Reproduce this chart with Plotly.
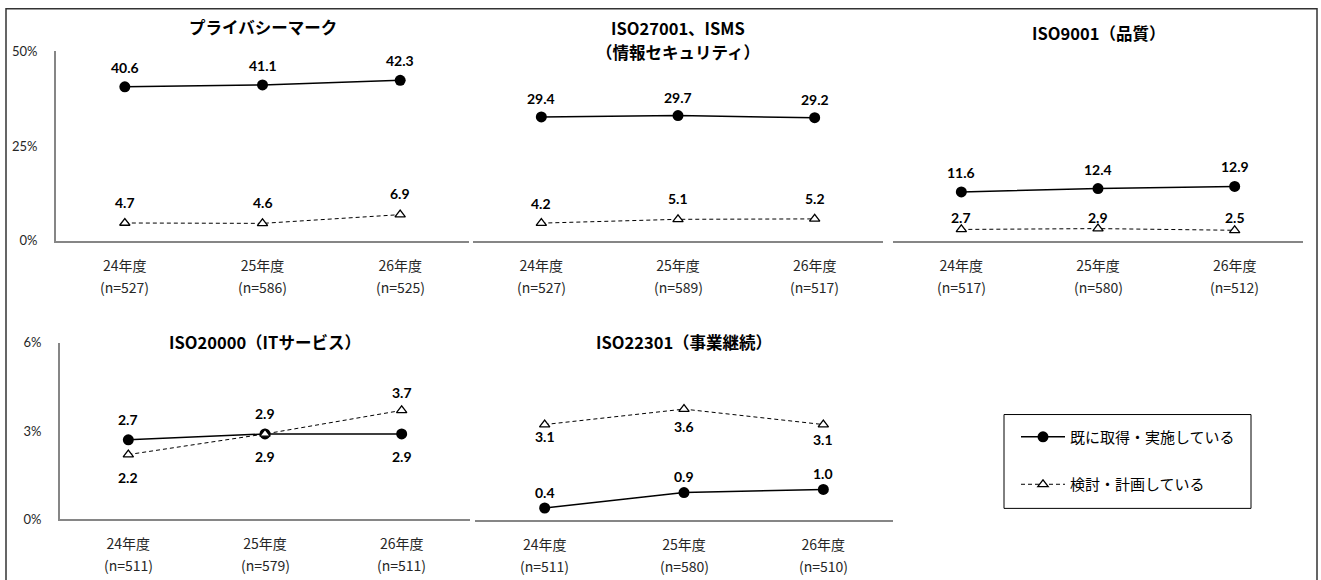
import plotly.graph_objects as go

# ---------------- data ----------------
years = ["24年度", "25年度", "26年度"]
titles = [
    ["プライバシーマーク"],
    ["ISO27001、ISMS", "（情報セキュリティ）"],
    ["ISO9001（品質）"],
    ["ISO20000（ITサービス）"],
    ["ISO22301（事業継続）"],
]
n_counts = [
    [527, 586, 525],
    [527, 589, 517],
    [517, 580, 512],
    [511, 579, 511],
    [511, 580, 510],
]
acquired = [
    [40.6, 41.1, 42.3],
    [29.4, 29.7, 29.2],
    [11.6, 12.4, 12.9],
    [2.7, 2.9, 2.9],
    [0.4, 0.9, 1.0],
]
planning = [
    [4.7, 4.6, 6.9],
    [4.2, 5.1, 5.2],
    [2.7, 2.9, 2.5],
    [2.2, 2.9, 3.7],
    [3.1, 3.6, 3.1],
]
series_names = ["既に取得・実施している", "検討・計画している"]
y_ticks_top = [0, 25, 50]
y_ticks_bottom = [0, 3, 6]

# ---------------- layout helpers ----------------
W, H = 1321, 580
# panel boxes in screen pixels: (x0, x1, ytop, ybottom)
boxes = [
    (56, 469, 51, 241),
    (473, 883, 51, 241),
    (893, 1303, 51, 241),
    (60, 470, 343, 520),
    (475, 893, 343, 521),
]
y_ranges = [[0, 50], [0, 45], [0, 45], [0, 6], [0, 5.75]]
show_y = [True, False, False, True, False]
title_y_px = [27, 28, 33, 342, 342]
title_line_gap = 24
# vertical offset (screen px, + = above the point) of each value label
acq_shift = [
    [19, 19, 19],
    [18, 18, 18],
    [19, 19, 19],
    [20, 20, -22],
    [15, 16, 16],
]
plan_shift = [
    [20, 20, 21],
    [19, 20, 20],
    [12, 11, 12],
    [-22, -22, 17],
    [-12, -17, -15],
]

# the page photo shows the figure vertically as y_screen = 0.974*y + 7.8
V_SCALE, V_OFF = 0.974, 7.8


def px_x(x):
    return x / W


def px_y(y):
    y_fig = (y - V_OFF) / V_SCALE
    return 1 - y_fig / H


JP = "Noto Sans CJK JP, sans-serif"
NUM = "Lato, Noto Sans CJK JP, sans-serif"
AXIS_COLOR = "#868686"

fig = go.Figure()
layout = dict(
    width=W, height=H, autosize=False,
    margin=dict(l=0, r=0, t=0, b=0),
    paper_bgcolor="white", plot_bgcolor="white",
    showlegend=True,
)
annotations = []
shapes = []

for i in range(5):
    k = "" if i == 0 else str(i + 1)
    xa, ya = "x" + k, "y" + k
    x0, x1, yt, yb = boxes[i]
    layout["xaxis" + k] = dict(
        domain=[px_x(x0), px_x(x1)],
        anchor=ya,
        type="category",
        range=[-0.5, 2.5],
        showline=True, linecolor=AXIS_COLOR, linewidth=2,
        showgrid=False, zeroline=False, ticks="",
        tickfont=dict(family=JP, size=14, color="#262626"),
        ticklabelstandoff=11,
        fixedrange=True,
    )
    ticks = y_ticks_top if i < 3 else y_ticks_bottom
    layout["yaxis" + k] = dict(
        domain=[px_y(yb), px_y(yt)],
        anchor=xa,
        range=y_ranges[i],
        showline=show_y[i], linecolor=AXIS_COLOR, linewidth=2,
        showgrid=False, zeroline=False, ticks="",
        showticklabels=show_y[i],
        tickvals=ticks,
        ticktext=[f"{t}%" for t in ticks],
        tickfont=dict(family=NUM, size=13, color="#262626"),
        ticklabelstandoff=14,
        fixedrange=True,
    )

    fig.add_trace(go.Scatter(
        x=years, y=acquired[i], xaxis=xa, yaxis=ya,
        name=series_names[0], legendgroup="a", showlegend=(i == 0),
        mode="lines+markers",
        line=dict(color="black", width=1.5),
        marker=dict(symbol="circle", size=11, color="black"),
        cliponaxis=False,
    ))
    fig.add_trace(go.Scatter(
        x=years, y=planning[i], xaxis=xa, yaxis=ya,
        name=series_names[1], legendgroup="b", showlegend=(i == 0),
        mode="lines+markers",
        line=dict(color="black", width=1, dash="4px,3px"),
        marker=dict(symbol="triangle-up", size=9, color="white",
                    line=dict(color="black", width=1.3)),
        cliponaxis=False,
    ))

    # value labels
    for vals, shifts in ((acquired[i], acq_shift[i]), (planning[i], plan_shift[i])):
        for j, yr in enumerate(years):
            annotations.append(dict(
                text=f"<b>{vals[j]:.1f}</b>", xref=xa, x=yr, yref=ya, y=vals[j],
                yshift=shifts[j] / V_SCALE, xanchor="center", yanchor="middle",
                showarrow=False, font=dict(family=NUM, size=14, color="black"),
            ))

    # panel title (one annotation per line)
    for li, line in enumerate(titles[i]):
        annotations.append(dict(
            text=f"<b>{line}</b>", xref=xa + " domain", x=0.5,
            yref="paper", y=px_y(title_y_px[i] + li * title_line_gap),
            xanchor="center", yanchor="middle",
            showarrow=False, font=dict(family=JP, size=16.5, color="black"),
        ))
    # sample size line under category labels
    for j, yr in enumerate(years):
        annotations.append(dict(
            text=f"(n={n_counts[i][j]})", xref=xa, x=yr,
            yref="paper", y=px_y(yb + 46), xanchor="center", yanchor="middle",
            showarrow=False, font=dict(family=JP, size=14, color="#262626"),
        ))

# outer frame (top edge kept just inside the figure)
shapes.append(dict(type="rect", xref="paper", yref="paper",
                   x0=px_x(6), x1=px_x(1317), y0=1 - 0.8 / H, y1=px_y(600),
                   line=dict(color="#333333", width=1.5), fillcolor="rgba(0,0,0,0)"))
# legend frame
shapes.append(dict(type="rect", xref="paper", yref="paper",
                   x0=px_x(1004), x1=px_x(1251), y0=px_y(415), y1=px_y(509),
                   line=dict(color="black", width=1), fillcolor="rgba(0,0,0,0)"))

layout["legend"] = dict(
    x=px_x(1016), y=px_y(421), xanchor="left", yanchor="top",
    bgcolor="rgba(0,0,0,0)", borderwidth=0,
    font=dict(family=JP, size=15, color="black"),
    tracegroupgap=25, itemwidth=44,
)
layout["annotations"] = annotations
layout["shapes"] = shapes
fig.update_layout(**layout)

fig.write_html(
    "out.html",
    config={"displayModeBar": False},
    post_script="document.body.style.margin='0';document.body.style.overflow='hidden';",
)
